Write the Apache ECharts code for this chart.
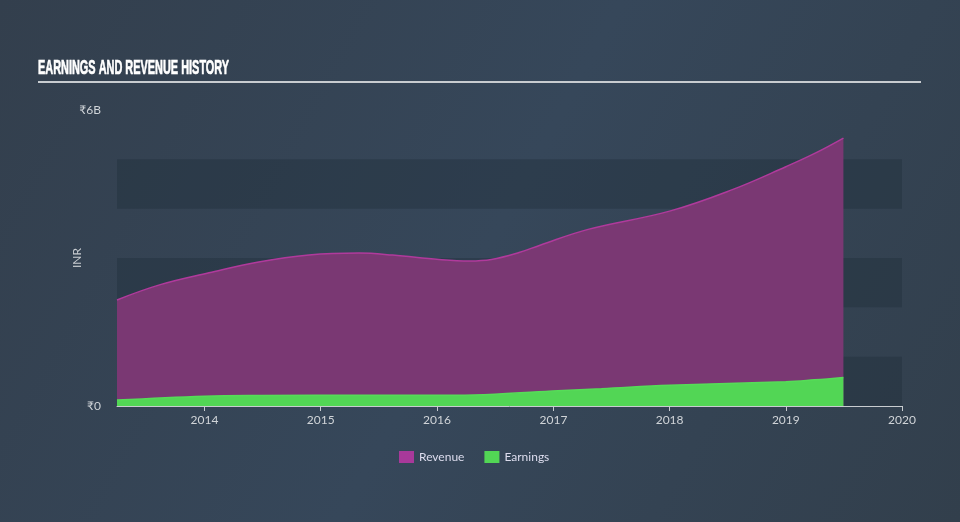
<!DOCTYPE html>
<html><head><meta charset="utf-8">
<script src="https://cdn.jsdelivr.net/npm/echarts@6/dist/echarts.min.js"></script>
<style>html,body{margin:0;padding:0;background:#344352;}#c{width:960px;height:522px;}</style>
</head><body><div id="c"></div>
<script>
const revenueDates = ['2013-04-01','2013-08-15','2014-01-15','2014-06-20','2014-11-25','2015-05-01','2015-08-15','2016-01-08','2016-04-12','2016-06-20','2016-09-15','2016-11-20','2017-04-20','2018-01-01','2018-07-15','2019-01-01','2019-04-05','2019-07-01'];
const revenueValues = [2.15,2.46,2.70,2.92,3.06,3.10,3.06,2.97,2.94,2.97,3.11,3.26,3.58,3.95,4.38,4.85,5.13,5.43];
const earningsDates = ['2013-04-01','2014-01-01','2014-07-01','2015-06-01','2016-03-01','2016-07-01','2017-01-15','2017-06-01','2018-01-01','2019-01-01','2019-04-01','2019-07-01'];
const earningsValues = [0.12,0.20,0.215,0.22,0.22,0.24,0.31,0.35,0.42,0.49,0.53,0.58];
const yTickLabels = {0:'₹0', 6:'₹6B'};

const chart = echarts.init(document.getElementById('c'));
const toPts = (d, v) => d.map((x, i) => [x, v[i] * 1e9]);
chart.setOption({
  backgroundColor: new echarts.graphic.LinearGradient(0,0,1,1,[{offset:0,color:'#333f4d'},{offset:0.5,color:'#36475a'},{offset:1,color:'#323f4c'}]),
  animation: false,
  graphic: [
    {type:'text', x:38, y:58, scaleX:0.52, style:{text:'EARNINGS AND REVENUE HISTORY', fill:'#ffffff', stroke:'#ffffff', lineWidth:0.7, font:'bold 21px "Liberation Sans"', textVerticalAlign:'top'}},
    {type:'rect', shape:{x:38, y:81, width:883, height:2}, style:{fill:'#c8ccd0'}}
  ],
  legend: {
    bottom: 54, left: 394, itemWidth: 15, itemHeight: 12, itemGap: 20,
    icon: 'rect',
    textStyle: {color:'#dde', fontSize: 12, fontFamily: 'Lato'},
    data: [{name:'Revenue', itemStyle:{color:'#a8399a'}}, {name:'Earnings', itemStyle:{color:'#52d655'}}]
  },
  grid: {left:117, right:58, top:110, bottom:116},
  xAxis: {
    type:'time', min:'2013-04-01', max:'2020-01-01', splitNumber: 7,
    axisLine:{lineStyle:{color:'#c8ccd0', width:1}},
    axisTick:{show:true, length:5, lineStyle:{color:'#c8ccd0'}},
    axisLabel:{color:'#d0d4d8', fontSize:12, fontFamily:'Lato', showMaxLabel:true, formatter: v => String(new Date(v).getFullYear()), margin:8},
    splitLine:{show:false}
  },
  yAxis: {
    type:'value', min:0, max:6e9, interval:1e9,
    name:'INR', nameLocation:'middle', nameGap:34, nameRotate:90, nameMoveOverlap:false,
    nameTextStyle:{color:'#c8ccd0', fontSize:12, fontFamily:'Lato'},
    axisLine:{show:false}, axisTick:{show:false},
    axisLabel:{color:'#d0d4d8', fontSize:12, fontFamily:'Lato', margin:16, formatter: v => yTickLabels[Math.round(v/1e9)] || ''},
    splitLine:{show:false},
    splitArea:{show:true, areaStyle:{color:['rgba(30,42,54,0.35)','rgba(0,0,0,0)']}}
  },
  series: [
    {name:'Revenue', type:'line', smooth:0.4, symbol:'none', data: toPts(revenueDates, revenueValues),
     lineStyle:{color:'#b03a9c', width:1.5}, itemStyle:{color:'#a8399a'}, areaStyle:{color:'#7a3873', opacity:1}, z:2},
    {name:'Earnings', type:'line', smooth:0.4, symbol:'none', data: toPts(earningsDates, earningsValues),
     lineStyle:{color:'#56dc58', width:1.5}, itemStyle:{color:'#52d655'}, areaStyle:{color:'#52d655', opacity:1}, z:3}
  ]
});
</script></body></html>
